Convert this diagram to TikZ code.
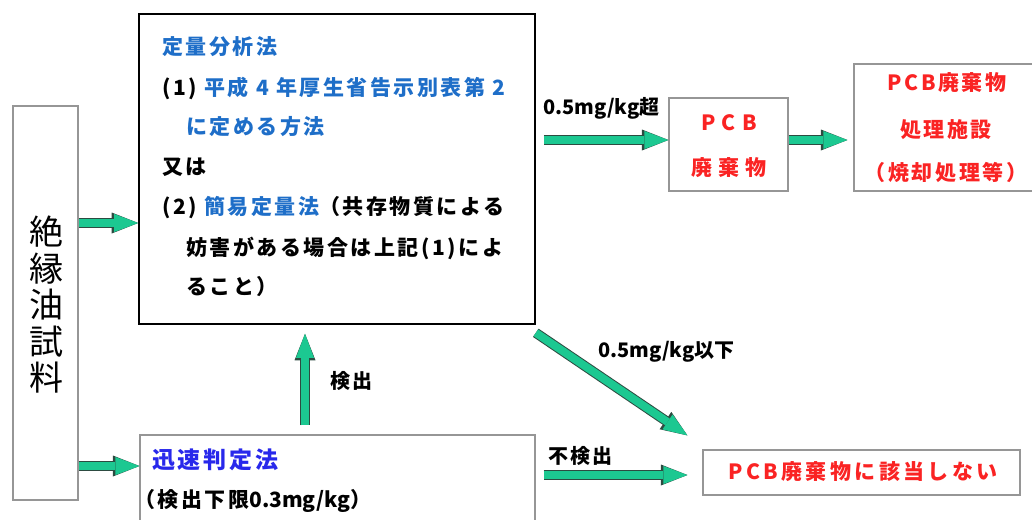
\documentclass[tikz,border=0pt]{standalone}
\usepackage{fontspec}
\setmainfont{Noto Sans CJK JP}
\newfontfamily\cjk[LetterSpace=12]{Noto Sans CJK JP}
\newfontfamily\cjkplain{Noto Sans CJK JP}
\newfontfamily\cjkwide[LetterSpace=30]{Noto Sans CJK JP}
\newfontfamily\cjkmid[LetterSpace=16]{Noto Sans CJK JP}
\usetikzlibrary{arrows.meta,calc}
\definecolor{fatgreen}{RGB}{28,200,145}
\definecolor{edgedark}{RGB}{45,75,65}
\definecolor{qblue}{RGB}{30,110,200}
\definecolor{rblue}{RGB}{40,40,235}
\definecolor{pred}{RGB}{250,35,35}
\definecolor{boxgray}{RGB}{150,150,150}
\begin{document}
\begin{tikzpicture}[x=1pt,y=-1pt,
  graybox/.style={draw=boxgray, line width=1.2pt, inner sep=0pt},
  blackbox/.style={draw=black, line width=1.6pt, inner sep=0pt},
  txt/.style={inner sep=0pt, anchor=west, font=\cjk\bfseries\fontsize{21}{24}\selectfont},
  lbl/.style={inner sep=0pt, anchor=west, font=\cjk\bfseries\fontsize{20}{24}\selectfont},
  numlbl/.style={inner sep=0pt, anchor=west, font=\cjkplain\bfseries\fontsize{20}{24}\selectfont},
  redtxt/.style={inner sep=0pt, text=pred, font=\cjk\bfseries\fontsize{21}{24}\selectfont},
  fat/.style={draw=fatgreen, line width=8pt,
    -{Triangle[length=24pt,width=18pt,line width=0pt]},
    preaction={draw=edgedark, line width=10pt, -{Triangle[length=26.5pt,width=21pt,line width=0pt]}}}
]
\useasboundingbox (0,0) rectangle (1032,519);

% boxes
\node[graybox, minimum width=65pt, minimum height=394pt] (sample) at (45.5,303) {};
\node[blackbox, minimum width=396pt, minimum height=310pt] (quant) at (337,169) {};
\node[graybox, minimum width=119pt, minimum height=93pt] (pcb) at (728.5,144.5) {};
\node[graybox, minimum width=184pt, minimum height=127pt] (fac) at (946,127.5) {};
\node[graybox, minimum width=395pt, minimum height=90pt] (quick) at (337.5,480) {};
\node[graybox, minimum width=317pt, minimum height=45pt] (notpcb) at (861.5,472.5) {};

% sample text
\node[inner sep=0pt, align=center, font=\fontsize{34}{36.5}\selectfont] (st) at (46,305) {絶\\縁\\油\\試\\料};

% quant text
\node[txt] (q1) at (162,47) {\textcolor{qblue}{定量分析法}};
\node[txt] (q2) at (162,88) {(1) \textcolor{qblue}{平成 4 年厚生省告示別表第 2}};
\node[txt] (q3) at (186,127) {\textcolor{qblue}{に定める方法}};
\node[txt] (q4) at (162,167) {又は};
\node[txt] (q5) at (162,208) {(2) \textcolor{qblue}{簡易定量法}（共存物質による};
\node[txt] (q6) at (186,248) {妨害がある場合は上記(1)によ};
\node[txt] (q7) at (186,287) {ること）};

% pcb text
\node[redtxt, font=\cjkwide\bfseries\fontsize{21}{24}\selectfont] (p1) at (729,123) {PCB};
\node[redtxt, font=\cjkwide\bfseries\fontsize{21}{24}\selectfont] (p2) at (729,168) {廃棄物};

% facility text
\node[redtxt] (f1) at (947,83) {PCB廃棄物};
\node[redtxt] (f2) at (946,130) {処理施設};
\node[redtxt] (f3) at (946,172) {（焼却処理等）};

% quick text
\node[txt, font=\cjk\bfseries\fontsize{23}{26}\selectfont, text=rblue] (k1) at (152,460) {迅速判定法};
\node[txt] (k2) at (134,501) {（検出下限{\cjkplain 0.3mg/kg}）};

% notpcb text
\node[redtxt, font=\cjkmid\bfseries\fontsize{21}{24}\selectfont] (n1) at (863,472) {PCB廃棄物に該当しない};

% labels
\node[numlbl] (l1) at (543,108) {0.5mg/kg超};
\node[lbl] (l2) at (330,381) {検出};
\node[numlbl] (l3) at (598,352) {0.5mg/kg以下};
\node[lbl] (l4) at (548,456) {不検出};

% arrows
\draw[fat] (sample.east |- 0,223) -- (quant.west |- 0,223);
\draw[fat] (sample.east |- 0,466) -- (quick.west |- 0,466);
\draw[fat] ($(quant.east |- 0,140)+(8,0)$) -- (pcb.west |- 0,140);
\draw[fat] (pcb.east |- 0,140) -- ($(fac.west |- 0,140)+(-6,0)$);
\draw[fat] ($(quick.north -| 305,0)+(0,-9)$) -- ($(quant.south -| 305,0)+(0,9)$);
\draw[fat] ($(quant.south east)+(0,8)$) -- ($(notpcb.north west)+(-15,-14)$);
\draw[fat] ($(quick.east |- 0,475)+(8,0)$) -- ($(notpcb.west |- 0,475)+(-15,0)$);
\end{tikzpicture}
\end{document}
